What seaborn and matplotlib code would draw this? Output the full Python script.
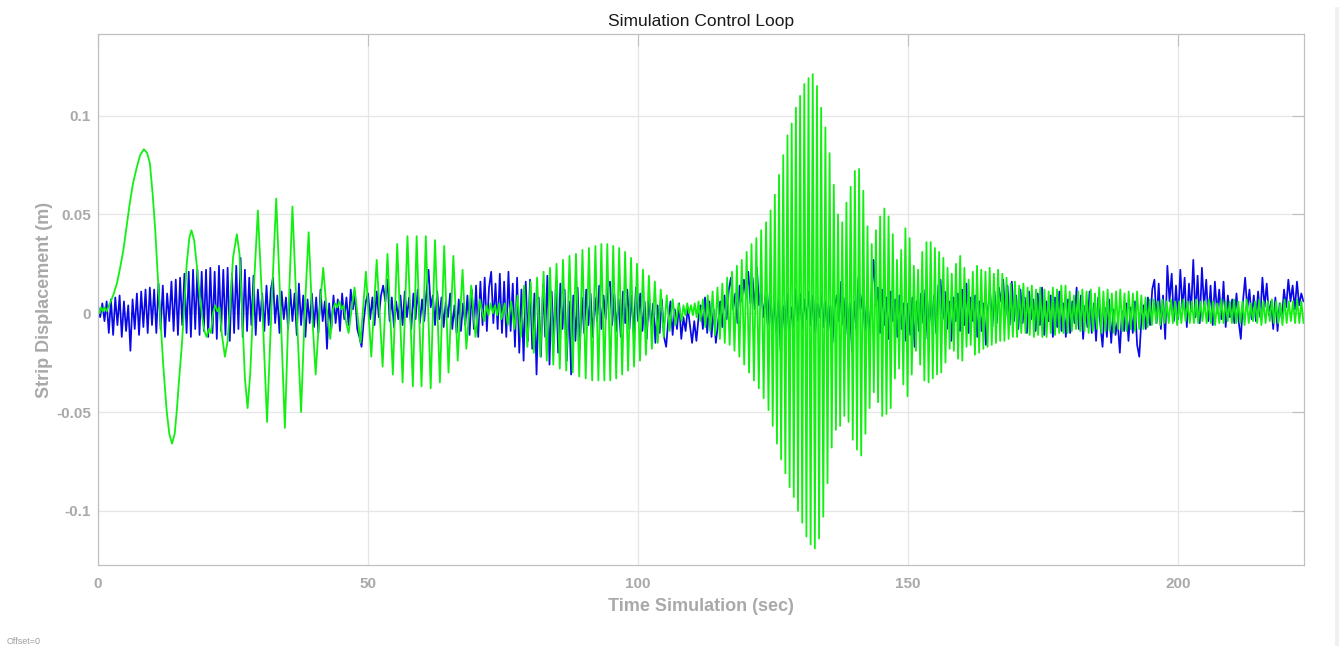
import numpy as np
import pandas as pd
import matplotlib
matplotlib.use("Agg")
import matplotlib.pyplot as plt
from matplotlib.patches import Rectangle
from matplotlib.ticker import FixedLocator, FixedFormatter
import seaborn as sns

# ---------------------------------------------------------------------------
# Blue trace: strip displacement sampled every 0.4 s (values in mm)
# ---------------------------------------------------------------------------
BLUE_STEP = 0.4
blue_mm = [
    4, -2, 5, -4, 6, -10, 7, -11, 8, -6, 9, -12, 6, -9, 4, -19, 7, -8, 10, -11, 11, -7, 12, -10, 13,          # 0-10 s
    -6, 12, -10, 15, -8, 14, -12, 10, -4, 16, -9, 17, -11, 18, -6, 20, -10, 21, -12, 22, -8, 22, -11, 21, -9,  # 10-20 s
    22, -12, 23, -10, 21, -13, 24, -9, 22, -11, 23, -14, 20, -10, 24, -8, 28, -12, 22, -9, 18, -6, 19, -11, 12,
    -4, 10, -9, 14, -6, 12, 18, -5, 9, -10, 11, -3, 8, -8, 12, -4, 10, -11, 15, -6, 9, -12, 7, -5, 10,
    -7, 8, -10, 12, -4, 6, -18, 5, -8, 9, -5, 7, -9, 10, -3, 8, -6, 12, 2, 9, -8, -12, -17, -4, 6,
    10, -3, 8, -6, 11, -2, 9, 14, 6, 17, -4, 8, -7, 6, -3, 9, -6, 11, -2, 8, -8, 10, -3, 12, -5,         # 50-60 s
    7, -4, 10, 22, 3, 9, -6, 11, -3, 8, -7, 6, -2, 10, -8, 4, -10, 7, -9, 5, -6, 9, -11, 12, -8,
    14, -12, 16, -6, 18, -9, 13, 21, -5, 15, -8, 20, -10, 16, -12, 21, -9, 15, -17, 18, -20, 12, -24, 16, -14,
    17, -18, 10, -31, 8, -22, 14, -12, 19, -26, 11, -15, 16, -20, 15, -8, 12, -24, 6, -31, 9, -14, 13, -18, 8,
    -10, 12, -6, 10, -12, 8, -4, 14, -8, 9, -3, 13, 16, -6, 10, -9, 7, -12, 11, -5, 12, -8, 9, -11, 13,
    -4, 10, -9, 6, -13, 8, -6, 5, -15, 4, -10, 7, -12, -17, -3, 6, -11, 2, -8, 5, -13, -2, -9, 3, -6,      # 100-110 s
    -15, -4, -14, -2, 4, -8, 8, -10, 6, -12, 2, -15, -5, 6, -7, 9, -3, 12, 18, 2, 10, -5, 14, 6, 17,
    8, 21, 5, 18, 2, 23, 4, 12, -2, 9, -6, 11, -8, 6, -10, 7, -19, 4, -9, 10, -14, 3, -7, 12, -4,
    10, -8, 7, -3, 11, -6, 9, -10, 5, -2, 10, -7, 6, -9, 4, -15, 3, 9, -4, 16, -6, 8, -11, 5, -19,
    6, -8, 18, 2, 10, -9, 7, -12, 9, 27, 4, 13, -10, 12, -6, 8, -13, 11, -4, 7, -12, 9, -8, 5, -14,
    5, -11, 8, -17, 6, -9, 10, -5, 12, -13, 7, -6, 9, -10, 14, 17, -3, 11, -8, 6, -14, 8, -4, 10, -9,      # 150-160 s
    12, -6, 15, -10, 8, -4, 9, -12, 6, -9, 5, -16, 3, 10, -7, 11, -5, 13, 6, 17, -2, 14, -6, 16, -4,
    9, -8, 12, -5, 8, -10, 11, -3, 7, -9, 10, -6, 13, -11, 6, -4, 9, -12, 8, -7, 11, -9, 5, -12, 7,
    -10, 6, -5, 13, -8, 9, -13, 4, -7, 11, -10, 5, -14, 8, -6, -17, 3, -12, 7, -15, 2, -11, -4, -20, 1,
    -9, 5, -14, 3, -10, 6, -16, -22, -3, 4, -8, 8, -6, 12, 17, -5, 15, -8, 9, -13, 24, 6, 20, -4, 14,
    -3, 22, 2, 18, -7, 15, 1, 27, -2, 19, -5, 23, 3, 17, -4, 14, -6, 16, 0, 12, -3, 16, -7, 9, -2,        # 200-210 s
    7, -5, 10, -4, -13, 6, 18, 2, 12, -3, 9, -4, 11, -2, 18, 3, 15, -1, 6, -8, 8, -9, 5, -3, 12,
    3, 17, 6, 14, 2, 16, 4, 10, 6,
]

# ---------------------------------------------------------------------------
# Green trace, first 75 s: turning points (time in s, value in mm)
# ---------------------------------------------------------------------------
green_early_t = [
    0.0, 0.3, 0.6, 0.9, 1.2, 1.6, 2.2, 2.8, 3.5, 4.1,
    4.7, 5.3, 5.9, 6.5, 7.2, 7.8, 8.5, 9.1, 9.6, 10.1,
    10.6, 11.0, 11.5, 12.1, 12.7, 13.2, 13.7, 14.2, 14.6, 15.0,
    15.5, 15.9, 16.4, 16.9, 17.3, 17.8, 18.3, 18.8, 19.3, 19.7,
    20.1, 20.5, 20.9, 21.3, 21.7, 22.1, 22.5, 22.9, 23.5, 24.0,
    24.5, 25.0, 25.7, 26.2, 26.7, 27.2, 27.7, 28.2, 28.9, 29.6,
    30.4, 31.3, 32.2, 33.0, 33.8, 34.6, 35.3, 36.0, 36.8, 37.6,
    38.3, 39.0, 39.6, 40.3, 41.0, 41.7, 42.3, 43.0, 43.5, 43.9,
    44.3, 44.7, 45.1, 45.5, 45.9, 46.4, 47.0, 47.5, 48.1, 48.6,
    49.6, 50.6, 51.6, 52.7, 53.6, 54.6, 55.4, 56.4, 57.3, 58.3,
    59.0, 59.9, 60.7, 61.6, 62.4, 63.3, 64.1, 64.9, 65.8, 66.6,
    67.5, 68.2, 69.1, 69.9, 70.7, 71.5, 71.9, 72.3, 72.7, 73.1,
    73.5, 73.9, 74.3, 74.7, 75.3,
]
green_early_mm = [
    2, 0, 3, 1, 3, 1, 5, 9, 15, 23,
    32, 44, 56, 66, 74, 80, 83, 81, 76, 61,
    42, 22, 0, -27, -49, -61, -66, -61, -49, -34,
    -17, 0, 24, 38, 42, 37, 24, 10, -2, -9,
    -12, -8, -10, 0, 4, 1, 3, -10, -22, -14,
    5, 28, 40, 30, 0, -33, -48, -30, 15, 52,
    5, -55, 8, 58, 2, -58, 3, 54, 0, -50,
    2, 41, 2, -31, 0, 23, 3, -13, 2, 5,
    3, 6, 2, 4, -4, -10, 3, 13, -2, -15,
    21, -22, 27, -27, 30, -31, 35, -35, 39, -37,
    39, -37, 39, -38, 37, -35, 34, -30, 29, -24,
    22, -18, 14, -12, 7, -4, 4, -1, 5, 0,
    4, -1, 5, -3, 5,
]

# ---------------------------------------------------------------------------
# Green trace after 75 s: alternating turning points, evenly spaced inside
# each stretch (half-period in s, values in mm)
# ---------------------------------------------------------------------------
green_half_periods = [0.60, 0.55, 0.35, 0.45, 0.39]
green_stretch_1 = [-6, 6, -8, 9, -12, 14, -17, 16, -20, 18, -22, 21, -24, 23,
                   -26, 25, -28, 27, -29, 29, -30, 30, -32, 32, -33, 33, -34, 34]
green_stretch_2 = [-34, 35, -34, 35, -34, 34, -33, 33, -31, 31, -29, 28, -27, 25,
                   -24, 22, -21, 19, -18, 16, -15, 12, -12, 9, -9, 7, -6, 5, -4]
green_stretch_3 = [4, -1, 5, 0, 4, -1, 5, -2, 6, -4]
green_stretch_4 = [7, -7, 9, -9, 11, -11, 13, -13, 15, -15, 18, -16, 21, -19,
                   24, -22, 27, -26, 31, -30, 35, -34, 38, -38, 42, -43, 46, -49]
green_stretch_5 = [
    52, -57, 60, -66, 70, -74, 80, -81, 90, -88,
    96, -93, 104, -100, 110, -106, 116, -113, 119, -117,
    121, -119, 115, -114, 104, -103, 94, -86, 81, -68,
    65, -59, 50, -57, 46, -52, 56, -55, 64, -64,
    72, -69, 73, -72, 62, -61, 44, -48, 35, -40,
    42, -45, 49, -52, 53, -51, 49, -48, 40, -33,
    27, -28, 32, -36, 43, -42, 38, -31, 24, -19,
    22, -26, 31, -34, 36, -35, 36, -33, 33, -31,
    31, -30, 28, -25, 23, -18, 20, -19, 25, -23,
    29, -24, 23, -17, 17, -16, 21, -21, 24, -20,
    22, -18, 21, -17, 23, -16, 20, -15, 22, -14,
    20, -14, 18, -13, 15, -12, 16, -12, 14, -10,
    15, -10, 13, -11, 14, -12, 12, -11, 13, -12,
    12, -12, 11, -10, 13, -11, 12, -10, 14, -10,
    14, -10, 11, -9, 9, -8, 11, -9, 12, -9,
    11, -10, 12, -9, 10, -8, 13, -10, 11, -9,
    12, -9, 10, -10, 11, -8, 12, -9, 10, -9,
    11, -8, 10, -9, 11, -8, 9, -8, 8, -7,
    7, -6, 7, -5, 6, -6, 7, -5, 6, -5,
    7, -5, 6, -6, 6, -5, 7, -4, 6, -5,
    6, -5, 7, -5, 6, -4, 6, -5, 7, -5,
    6, -6, 5, -5, 7, -5, 6, -4, 6, -5,
    7, -5, 6, -5, 6, -6, 7, -5, 5, -4,
    6, -5, 7, -6, 6, -5, 6, -4, 7, -5,
    6, -5, 5, -6, 7, -5, 6, -4, 6, -5,
    7, -5, 6, -5,
]
green_stretches = [green_stretch_1, green_stretch_2, green_stretch_3,
                   green_stretch_4, green_stretch_5]

# ---------------------------------------------------------------------------
# Assemble the two series
# ---------------------------------------------------------------------------
blue_t = BLUE_STEP * np.arange(len(blue_mm))
blue = pd.DataFrame({"t": blue_t, "y": np.asarray(blue_mm, float) / 1000.0})

g_t = list(green_early_t)
g_mm = list(green_early_mm)
for half, values in zip(green_half_periods, green_stretches):
    start = g_t[-1]
    for i, v in enumerate(values, start=1):
        g_t.append(start + half * i)
        g_mm.append(v)
green = pd.DataFrame({"t": g_t, "y": np.asarray(g_mm, float) / 1000.0})

# ---------------------------------------------------------------------------
# Figure
# ---------------------------------------------------------------------------
sns.set_theme(style="white")
plt.rcParams["font.family"] = ["Liberation Sans", "DejaVu Sans"]

W, H = 1344, 646
fig = plt.figure(figsize=(W / 100, H / 100), dpi=100)
fig.patch.set_facecolor("white")
ax = fig.add_axes([98 / W, (H - 565) / H, (1304 - 98) / W, (565 - 34) / H])

sns.lineplot(data=blue, x="t", y="y", ax=ax, color="#0808e8", linewidth=1.25,
             estimator=None, sort=False)
sns.lineplot(data=green, x="t", y="y", ax=ax, color="#12f012", linewidth=1.3,
             estimator=None, sort=False)

ax.set_xlim(0, 223.3)
ax.set_ylim(-0.1274, 0.1413)

xticks = [0, 50, 100, 150, 200]
yticks = [-0.1, -0.05, 0, 0.05, 0.1]
ytick_labels = ["-0.1", "-0.05", "0", "0.05", "0.1"]
ax.xaxis.set_major_locator(FixedLocator(xticks))
ax.xaxis.set_major_formatter(FixedFormatter([str(v) for v in xticks]))
ax.yaxis.set_major_locator(FixedLocator(yticks))
ax.yaxis.set_major_formatter(FixedFormatter(ytick_labels))

grey_text = "#a9a9a9"
ax.grid(True, color="#e6e6e6", linewidth=0.9)
ax.set_axisbelow(True)
for side in ["left", "right", "top", "bottom"]:
    ax.spines[side].set_visible(True)
    ax.spines[side].set_color("#c0c0c0")
    ax.spines[side].set_linewidth(0.9)

ax.tick_params(axis="both", which="major", direction="in", length=8.5, width=0.8,
               color="#c0c0c0", top=True, right=True, labelsize=11,
               labelcolor=grey_text)
ax.tick_params(axis="x", pad=9)
ax.tick_params(axis="y", pad=5)
for lab in ax.get_xticklabels() + ax.get_yticklabels():
    lab.set_fontweight("bold")

ax.set_xlabel("Time Simulation (sec)", fontsize=13, fontweight="bold",
              color=grey_text, labelpad=5)
ax.set_ylabel("Strip Displacement (m)", fontsize=13, fontweight="bold",
              color=grey_text, labelpad=2.5)
ax.set_title("Simulation Control Loop", fontsize=12.5, color="#1a1a1a", pad=6)

fig.text(7 / W, (H - 642) / H, "Offset=0", fontsize=6.5, color="#a0a0a0",
         ha="left", va="center")
fig.patches.append(Rectangle((1335 / W, 0.0), 4 / W, (H - 7) / H,
                             transform=fig.transFigure, facecolor="#f0f0f0",
                             edgecolor="none"))

fig.savefig("out.png", dpi=100, facecolor="white")
